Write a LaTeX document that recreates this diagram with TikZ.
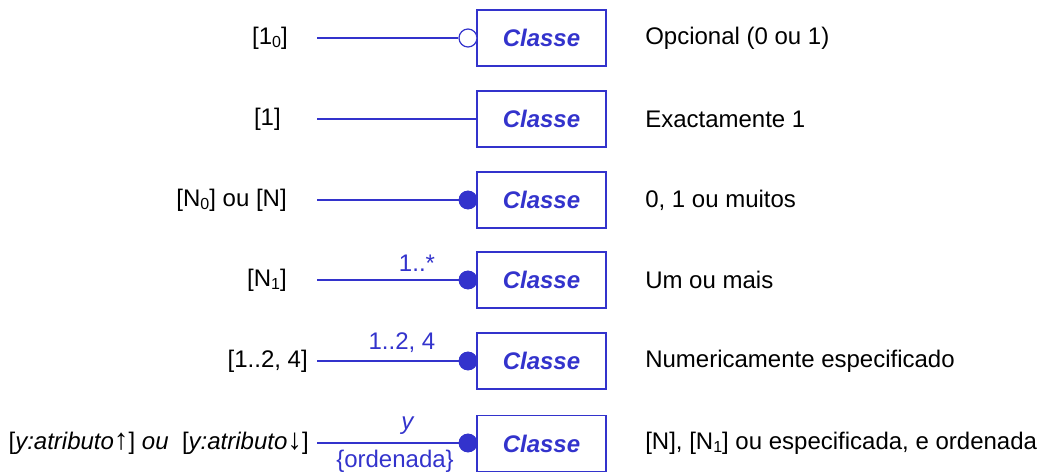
\documentclass[tikz,border=0pt]{standalone}
\usepackage{fontspec}
\setmainfont{Liberation Sans}
\definecolor{ublue}{HTML}{3333CC}
\begin{document}
\begin{tikzpicture}[x=0.75pt,y=-0.75pt,
  txt/.style={font=\fontsize{18}{20}\selectfont, inner sep=0pt},
  cls/.style={draw=ublue, line width=0.9pt, minimum width=96.75pt, minimum height=42pt,
    inner sep=0pt, text=ublue, font=\fontsize{18}{20}\selectfont\bfseries\itshape},
  lbl/.style={txt, anchor=east},
  desc/.style={txt, anchor=west},
  mult/.style={txt, text=ublue},
  conn/.style={draw=ublue, line width=0.9pt},
  odot/.style={circle, draw=ublue, fill=white, line width=0.9pt, minimum size=13.5pt, inner sep=0pt},
  fdot/.style={circle, fill=ublue, minimum size=14pt, inner sep=0pt}]
\useasboundingbox (0,0) rectangle (1047,472);
\newcommand{\sub}[1]{\raisebox{-0.25ex}{\fontsize{12}{12}\selectfont #1}}
\newcommand{\arr}[1]{{\fontsize{22}{22}\selectfont #1}}

% row 1
\node[cls] (c1) at (541.5,38) {Classe};
\node[lbl] (l1) at (288,38) {[1\sub{0}]};
\coordinate (s1) at (317,38);
\node[odot] (d1) at (468,38) {};
\draw[conn] (s1) -- (d1);
\node[desc] (t1) at (645,38) {Opcional (0 ou 1)};

% row 2
\node[cls] (c2) at (541.5,119) {Classe};
\node[lbl] (l2) at (281,119) {[1]};
\coordinate (s2) at (317,119);
\draw[conn] (s2) -- (c2.west);
\node[desc] (t2) at (645,119) {Exactamente 1};

% row 3
\node[cls] (c3) at (541.5,200) {Classe};
\node[lbl] (l3) at (287,200) {[N\sub{0}] ou [N]};
\coordinate (s3) at (317,200);
\node[fdot] (d3) at (468,200) {};
\draw[conn] (s3) -- (d3.center);
\node[fdot] at (d3) {};
\node[desc] (t3) at (645,200) {0, 1 ou muitos};

% row 4
\node[cls] (c4) at (541.5,280) {Classe};
\node[lbl] (l4) at (287,280) {[N\sub{1}]};
\coordinate (s4) at (317,280);
\node[fdot] (d4) at (468,280) {};
\draw[conn] (s4) -- (d4.center);
\node[fdot] at (d4) {};
\node[mult] (m4) at (417,263) {1..*};
\node[desc] (t4) at (645,280) {Um ou mais};

% row 5
\node[cls] (c5) at (541.5,361) {Classe};
\node[lbl] (l5) at (308,361) {[1..2, 4]};
\coordinate (s5) at (317,361);
\node[fdot] (d5) at (468,361) {};
\draw[conn] (s5) -- (d5.center);
\node[fdot] at (d5) {};
\node[mult] (m5) at (402,343) {1..2, 4};
\node[desc] (t5) at (645,361) {Numericamente especificado};

% row 6
\node[cls] (c6) at (541.5,443.5) {Classe};
\node[lbl] (l6) at (309,443) {[\textit{y:atributo}\arr{↑}] \textit{ou}\ \ [\textit{y:atributo}\arr{↓}]};
\coordinate (s6) at (317,443);
\node[fdot] (d6) at (468,443) {};
\draw[conn] (s6) -- (d6.center);
\node[fdot] at (d6) {};
\node[mult] (m6) at (408,426) {\textit{y}};
\node[mult] (o6) at (395,461) {\{ordenada\}};
\node[desc] (t6) at (645,443) {[N], [N\sub{1}] ou especificada, e ordenada};
\end{tikzpicture}
\end{document}
